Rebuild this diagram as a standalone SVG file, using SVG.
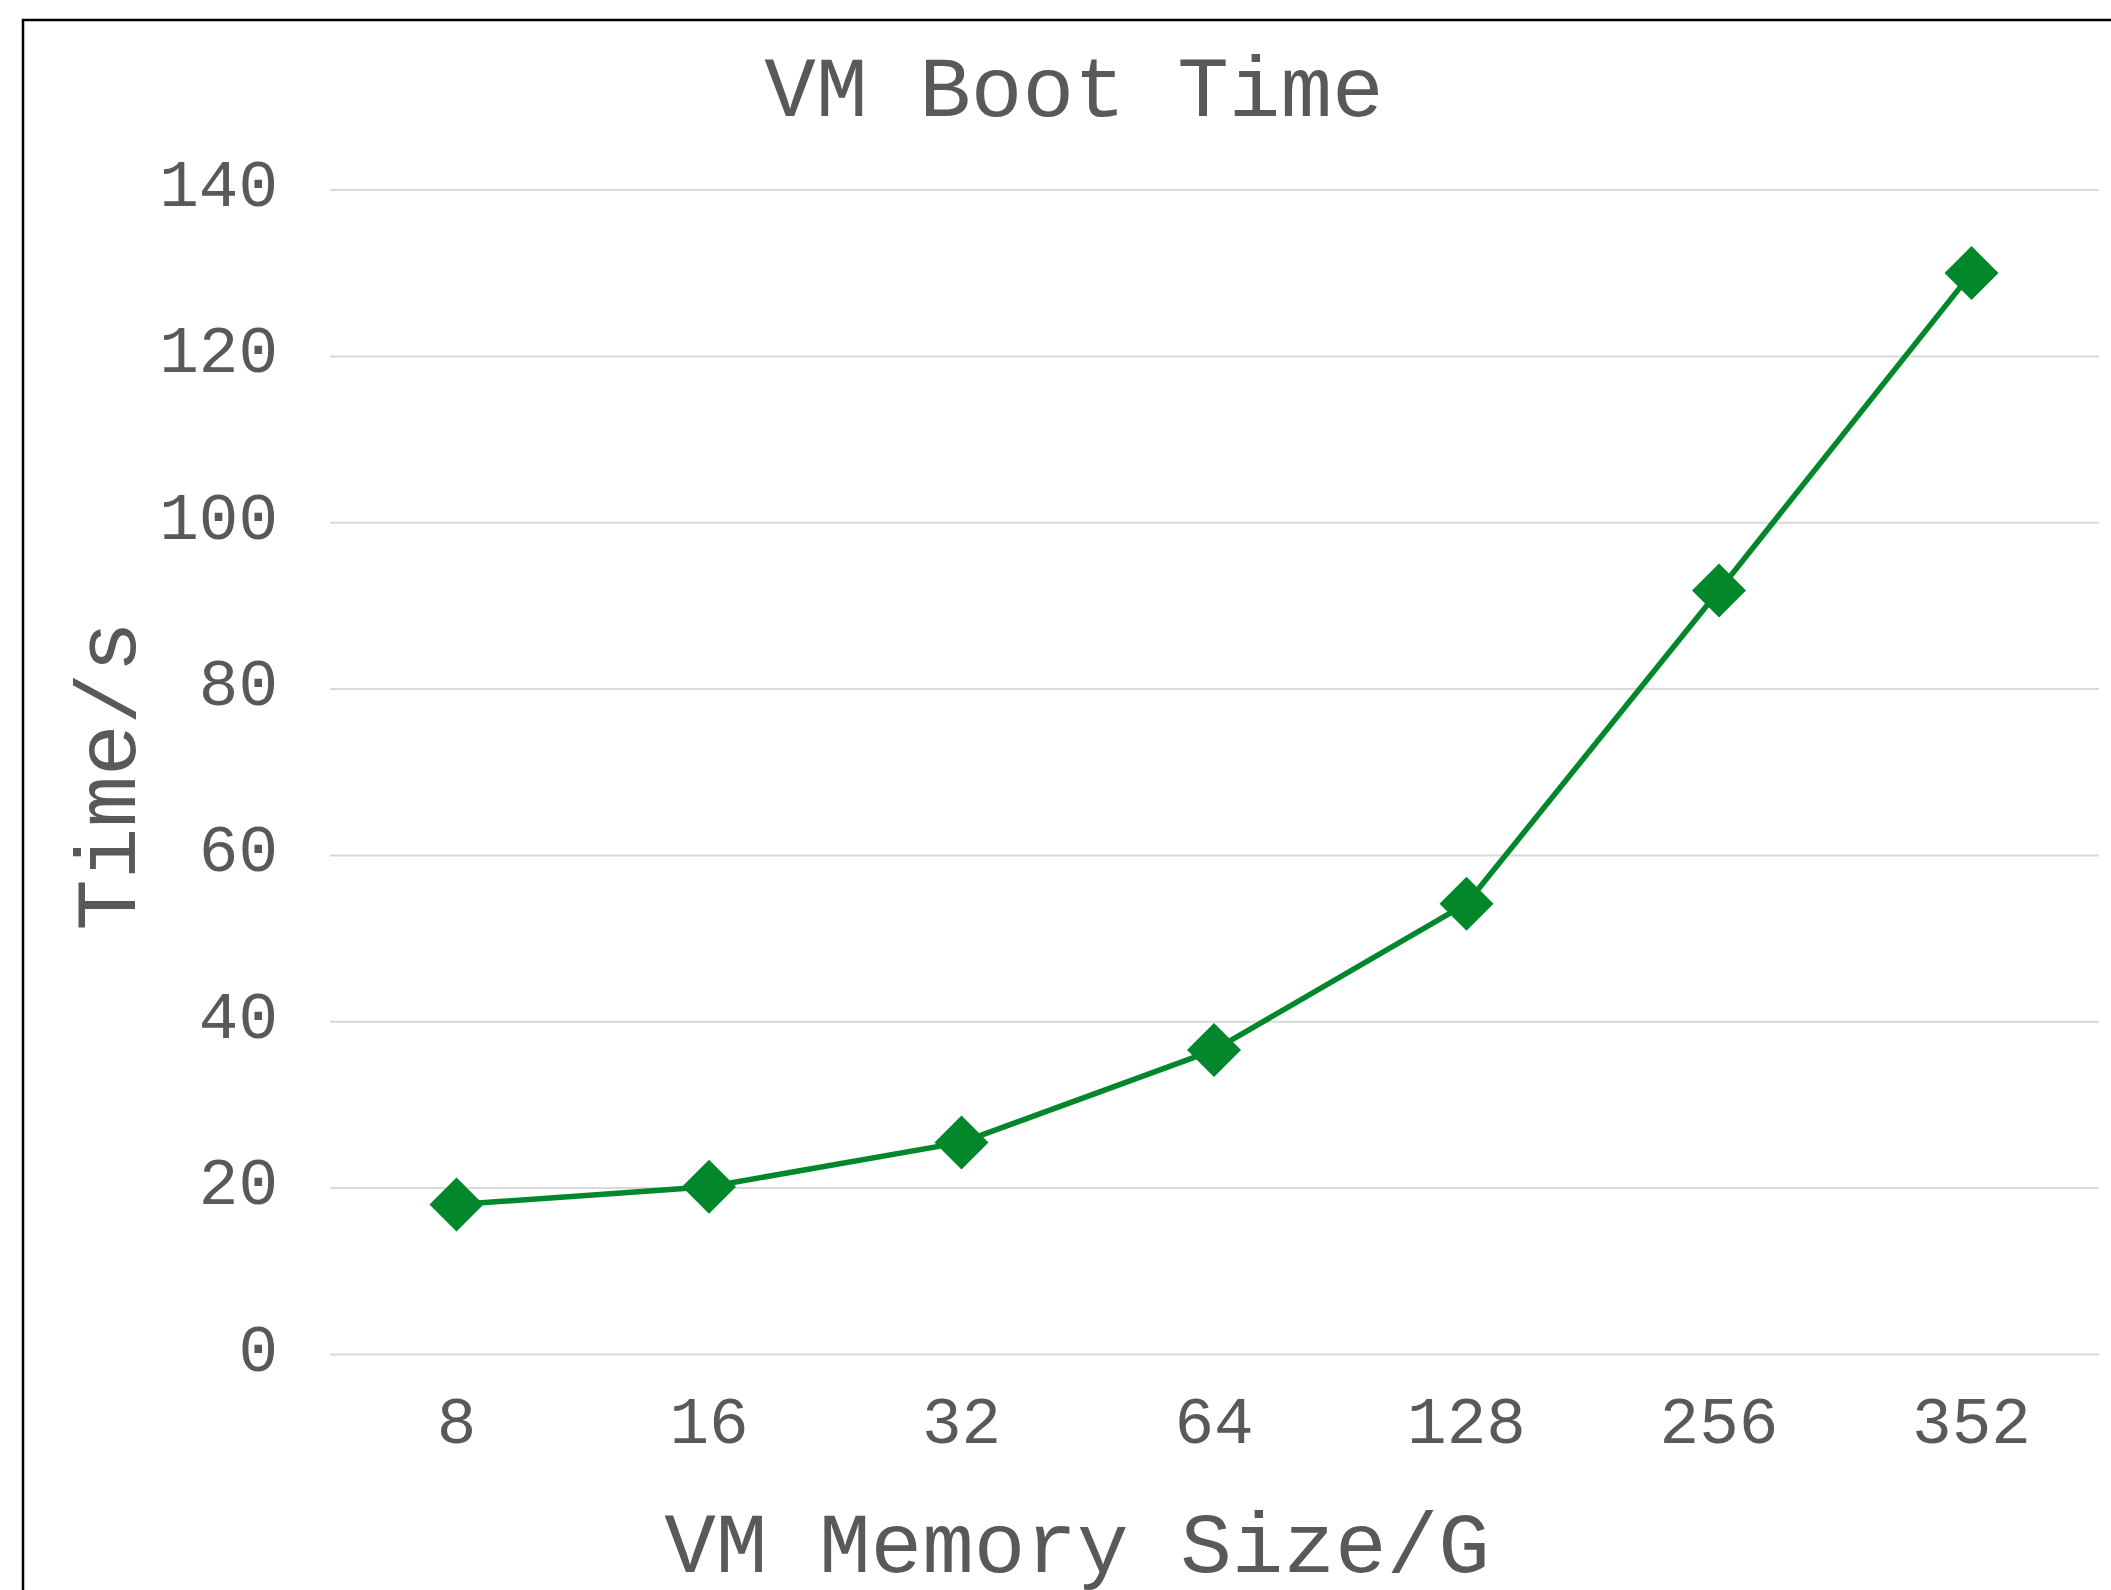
<svg xmlns="http://www.w3.org/2000/svg" width="2111" height="1590" viewBox="0 0 2111 1590">
  <style>
    .txt { font-family: "Liberation Mono", "Courier New", monospace; fill: #595959; }
    .title { font-size: 86px; text-anchor: middle; }
    .tick { font-size: 66px; }
    .ytick { text-anchor: end; }
    .xtick { text-anchor: middle; }
    .grid line { stroke: #d9d9d9; stroke-width: 2; }
    .series { fill: none; stroke: #03872b; stroke-width: 5.5; stroke-linejoin: round; }
    .marker { fill: #03872b; }
  </style>
  <defs>
    <path id="diamond" d="M0,-27 L27,0 L0,27 L-27,0 Z"/>
  </defs>

  <!-- chart background and frame -->
  <rect x="0" y="0" width="2111" height="1590" fill="#ffffff"/>
  <path d="M23,1590 L23,20 L2111,20" fill="none" stroke="#000000" stroke-width="2.5"/>

  <!-- title -->
  <text class="txt title" x="1074" y="116">VM Boot Time</text>

  <!-- horizontal gridlines, 0..140 step 20 -->
  <g class="grid" id="gridlines">
    <line x1="330" y1="190" x2="2099" y2="190"/>
    <line x1="330" y1="356.4" x2="2099" y2="356.4"/>
    <line x1="330" y1="522.7" x2="2099" y2="522.7"/>
    <line x1="330" y1="689.1" x2="2099" y2="689.1"/>
    <line x1="330" y1="855.4" x2="2099" y2="855.4"/>
    <line x1="330" y1="1021.8" x2="2099" y2="1021.8"/>
    <line x1="330" y1="1188.1" x2="2099" y2="1188.1"/>
    <line x1="330" y1="1354.5" x2="2099" y2="1354.5"/>
  </g>

  <!-- y axis tick labels -->
  <g class="txt tick ytick" id="y-axis">
    <text x="278" y="206">140</text>
    <text x="278" y="372.4">120</text>
    <text x="278" y="538.7">100</text>
    <text x="278" y="705.1">80</text>
    <text x="278" y="871.4">60</text>
    <text x="278" y="1037.8">40</text>
    <text x="278" y="1204.1">20</text>
    <text x="278" y="1370.5">0</text>
  </g>

  <!-- x axis category labels -->
  <g class="txt tick xtick" id="x-axis">
    <text x="456.5" y="1443">8</text>
    <text x="709" y="1443">16</text>
    <text x="961.5" y="1443">32</text>
    <text x="1214" y="1443">64</text>
    <text x="1466.5" y="1443">128</text>
    <text x="1719" y="1443">256</text>
    <text x="1971.5" y="1443">352</text>
  </g>

  <!-- axis titles -->
  <text class="txt title" x="1077" y="1572">VM Memory Size/G</text>
  <text class="txt title" transform="translate(135,776) rotate(-90)" x="0" y="0">Time/s</text>

  <!-- data series -->
  <g id="connectors">
    <polyline class="series" points="456.5,1204.6 709,1186.7 961.5,1142.4 1214,1050.1 1466.5,903.7 1719,590.4 1971.5,273.1"/>
  </g>
  <g id="points">
    <g id="p8"><use href="#diamond" class="marker" x="456.5" y="1204.6"/></g>
    <g id="p16"><use href="#diamond" class="marker" x="709" y="1186.7"/></g>
    <g id="p32"><use href="#diamond" class="marker" x="961.5" y="1142.4"/></g>
    <g id="p64"><use href="#diamond" class="marker" x="1214" y="1050.1"/></g>
    <g id="p128"><use href="#diamond" class="marker" x="1466.5" y="903.7"/></g>
    <g id="p256"><use href="#diamond" class="marker" x="1719" y="590.4"/></g>
    <g id="p352"><use href="#diamond" class="marker" x="1971.5" y="273.1"/></g>
  </g>
</svg>
